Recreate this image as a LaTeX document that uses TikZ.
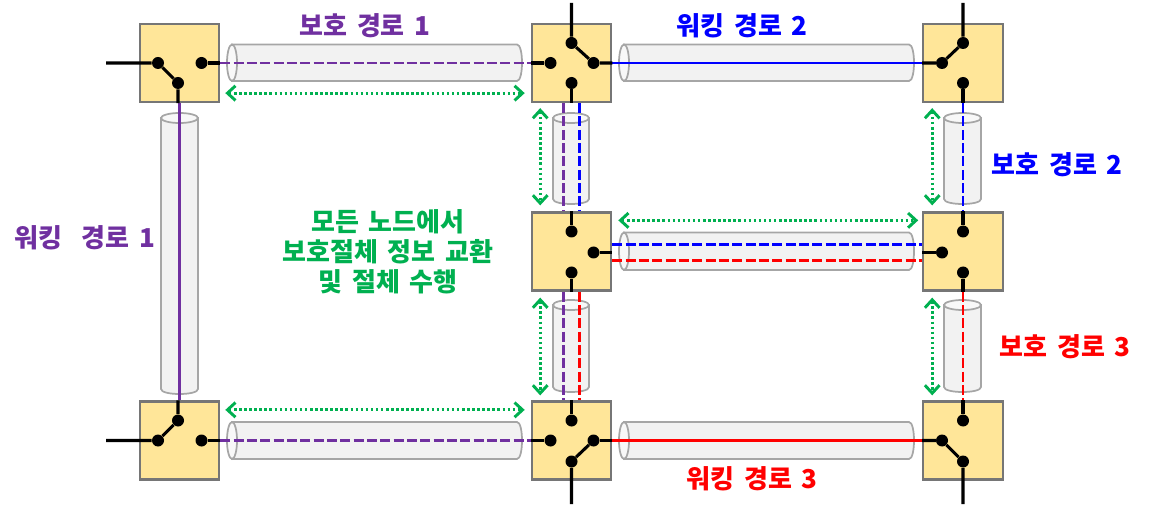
\documentclass[tikz,border=0pt]{standalone}
\usepackage{fontspec}
\setmainfont[WordSpace=1.6]{Noto Sans CJK KR}
\usetikzlibrary{arrows.meta}
\definecolor{boxfill}{HTML}{FFE699}
\definecolor{boxline}{HTML}{767676}
\definecolor{pipeline}{HTML}{A6A6A6}
\definecolor{pipebody}{HTML}{F2F2F2}
\definecolor{pipeend}{HTML}{F8F8F8}
\definecolor{prot}{HTML}{7030A0}
\definecolor{exch}{HTML}{00B050}
\newcommand\hpipe[4]{\draw[pipe]({#1+5},#3)--({#2-5},#3)..controls({#2+1.67},#3)and({#2+1.67},#4)..({#2-5},#4)--({#1+5},#4)--cycle;
\draw[pipe,fill=pipeend]({#1+5},{(#3+#4)/2})ellipse[x radius=5,y radius={(#4-#3)/2}];}
\newcommand\vpipe[4]{\draw[pipe](#1,{#3+5})--(#1,{#4-5})..controls(#1,{#4+1.67})and(#2,{#4+1.67})..(#2,{#4-5})--(#2,{#3+5})--cycle;
\draw[pipe,fill=pipeend]({(#1+#2)/2},{#3+5})ellipse[x radius={(#2-#1)/2},y radius=5];}
\begin{document}
\begin{tikzpicture}[x=0.75pt,y=-0.75pt,font=\bfseries\fontsize{19.5}{22.5}\selectfont]
% Styles for switches, links and labels
\tikzstyle{switch box}=[rectangle,draw=boxline,fill=boxfill,line width=1.7pt,minimum width=59.5pt,minimum height=58.5pt,inner sep=0pt];
\tikzstyle{dot}=[circle,fill=black,inner sep=0pt,minimum size=9pt];
\tikzstyle{pipe}=[draw=pipeline,fill=pipebody,line width=1.3pt];
\tikzstyle{wire}=[line width=2.3pt,black];
\tikzstyle{link}=[line width=2.2pt];
\tikzstyle{dash link}=[line width=2.2pt,dash pattern=on 7.5pt off 2.5pt];
\tikzstyle{exchange}=[exch,line width=2.4pt,dash pattern=on 1.9pt off 1.9pt,{Straight Barb[length=6pt,width=11pt,line width=2.2pt]}-{Straight Barb[length=6pt,width=11pt,line width=2.2pt]}];
\useasboundingbox(0,0)rectangle(1151,509);
% The pipes
\hpipe{227}{522}{44.5}{81}
\hpipe{619}{914}{44.5}{81}
\hpipe{619}{914}{232.5}{270}
\hpipe{227}{522}{422}{459}
\hpipe{619}{914}{422}{459}
\vpipe{161}{198}{113}{394}
\vpipe{553}{589}{113}{204}
\vpipe{553}{589}{300}{392}
\vpipe{944}{981}{113}{204}
\vpipe{944}{981}{300}{392}
% The switches
\node(tl)[switch box]at(179.5,63){};
\node(tm)[switch box]at(571.5,63){};
\node(tr)[switch box]at(963,63){};
\node(mm)[switch box]at(571.5,251.5){};
\node(mr)[switch box]at(963,251.5){};
\node(bl)[switch box]at(179.5,440.5){};
\node(bm)[switch box]at(571.5,440.5){};
\node(br)[switch box]at(963,440.5){};
% Contacts of each switch
\foreach \sw/\ct/\dx/\dy in {tl/tlw/-21.5/0,tl/tle/22/0,tl/tls/-1.5/20,
tm/tmn/0/-20,tm/tmw/-21/0,tm/tme/22/0,tm/tms/0/20,
tr/trn/0/-20,tr/trw/-21/0,tr/trs/0/20,
mm/mmn/0/-20,mm/mme/22/1,mm/mms/0/21,
mr/mrn/0/-20,mr/mrw/-21/1,mr/mrs/0/21,
bl/bln/-1.5/-20,bl/blw/-21.5/0,bl/ble/22/0,
bm/bmn/0/-20,bm/bmw/-21/0,bm/bme/22/0,bm/bms/0/21,
br/brn/0/-20,br/brw/-21/0,br/brs/0/21}
\node(\ct)[dot]at([shift={(\dx,\dy)}]\sw){};
% Free ends of the outer wires
\coordinate(tlin)at(106,63);
\coordinate(blin)at(106,440.5);
\coordinate(tmup)at(571.5,3);
\coordinate(trup)at(963,3);
\coordinate(bmdn)at(571.5,504);
\coordinate(brdn)at(963,504);
% Coloured links
\draw[link,prot](tl.south)--(bl.north);
\draw[dash link,prot](tl.east)--(tm.west);
\draw[dash link,prot](bl.east)--(bm.west);
\draw[link,blue](tm.east)--(tr.west);
\draw[link,red](bm.east)--(br.west);
\draw[dash link,prot]([xshift=-6pt]tm.south)--([xshift=-6pt]mm.north);
\draw[dash link,blue]([xshift=6pt]tm.south)--([xshift=6pt]mm.north);
\draw[dash link,prot]([xshift=-6pt]mm.south)--([xshift=-6pt]bm.north);
\draw[dash link,red]([xshift=6pt]mm.south)--([xshift=6pt]bm.north);
\draw[dash link,blue]([yshift=5.5pt]mm.east)--([yshift=5.5pt]mr.west);
\draw[dash link,red]([yshift=-6.5pt]mm.east)--([yshift=-6.5pt]mr.west);
\draw[dash link,blue](tr.south)--(mr.north);
\draw[dash link,red](mr.south)--(br.north);
% Black wires inside the switches
\draw[wire](tlin)--(tlw)--(tls)--(tls|-tl.south);
\draw[wire](tle)--(tl.east);
\draw[wire](tmup)--(tmn)--(tme)--(tm.east);
\draw[wire](tmw)--(tm.west);
\draw[wire](tms)--(tm.south);
\draw[wire](trup)--(trn)--(trw)--(tr.west);
\draw[wire](trs)--(tr.south);
\draw[wire](mmn)--(mm.north);
\draw[wire](mme)--(mme-|mm.east);
\draw[wire](mms)--(mm.south);
\draw[wire](mrn)--(mr.north);
\draw[wire](mrw)--(mrw-|mr.west);
\draw[wire](mrs)--(mr.south);
\draw[wire](blin)--(blw)--(bln)--(bln|-bl.north);
\draw[wire](ble)--(bl.east);
\draw[wire](bmn)--(bm.north);
\draw[wire](bmw)--(bm.west);
\draw[wire](bme)--(bm.east);
\draw[wire](bmdn)--(bms)--(bme);
\draw[wire](brn)--(br.north);
\draw[wire](br.west)--(brw)--(brs)--(brdn);
% Exchange arrows
\draw[exchange]([shift={(5,-10)}]tl.south east)--([shift={(-6,-10)}]tm.south west);
\draw[exchange]([shift={(5,9.5)}]bl.north east)--([shift={(-6,9.5)}]bm.north west);
\draw[exchange]([shift={(6,9)}]mm.north east)--([shift={(-4,9)}]mr.north west);
\draw[exchange]([shift={(9.5,5)}]tm.south west)--([shift={(9.5,-6)}]mm.north west);
\draw[exchange]([shift={(9.5,6)}]mm.south west)--([shift={(9.5,-5)}]bm.north west);
\draw[exchange]([shift={(10,5)}]tr.south west)--([shift={(10,-6)}]mr.north west);
\draw[exchange]([shift={(10,6)}]mr.south west)--([shift={(10,-5)}]br.north west);
% Labels
\node(prot1)[text=prot]at(365,26){보호 경로 1};
\node(work2)[text=blue]at(742,26){워킹 경로 2};
\node(prot2)[text=blue]at(1057,165){보호 경로 2};
\node(work1)[text=prot]at(85,238){워킹\ \ 경로 1};
\node(prot3)[text=red]at(1065,347){보호 경로 3};
\node(work3)[text=red]at(752,479){워킹 경로 3};
\node(info)[text=exch,align=center]at(388,252){모든 노드에서\\보호절체 정보 교환\\및 절체 수행};
\end{tikzpicture}
\end{document}
